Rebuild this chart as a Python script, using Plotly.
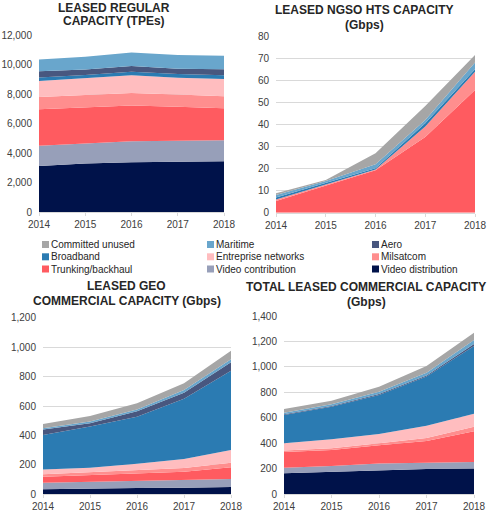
import plotly.graph_objects as go

W, H = 488, 515

years = [2014, 2015, 2016, 2017, 2018]

series_names = ["Video distribution", "Video contribution", "Trunking/backhaul", "Milsatcom",
                "Entreprise networks", "Broadband", "Aero", "Maritime", "Committed unused"]
series_colors = ["#00124a", "#979fb9", "#ff5b60", "#ff8e8e", "#ffbdbf",
                 "#2b7bb2", "#48577f", "#69a6cc", "#a6a6a6"]

# Leased regular capacity (TPEs)
regular_tpe = {
    "Video distribution": [3140, 3300, 3390, 3430, 3460],
    "Video contribution": [1360, 1360, 1420, 1410, 1420],
    "Trunking/backhaul": [2480, 2440, 2420, 2300, 2170],
    "Milsatcom": [820, 830, 840, 840, 810],
    "Entreprise networks": [1080, 1130, 1200, 1130, 1160],
    "Broadband": [250, 230, 240, 250, 250],
    "Aero": [410, 380, 390, 360, 420],
    "Maritime": [810, 860, 920, 920, 910],
    "Committed unused": [0, 0, 0, 0, 0],
}

# Leased NGSO HTS capacity (Gbps)
ngso_gbps = {
    "Video distribution": [0, 0, 0, 0, 0],
    "Video contribution": [0, 0, 0, 0, 0],
    "Trunking/backhaul": [5.3, 12.2, 19.2, 34.3, 55.5],
    "Milsatcom": [0.7, 0.6, 0.4, 4.7, 8.3],
    "Entreprise networks": [0, 0, 0, 0, 0],
    "Broadband": [0.9, 0.8, 0.5, 1.5, 1.2],
    "Aero": [0, 0, 0, 0, 0],
    "Maritime": [1.1, 0.7, 1.8, 1.5, 3.0],
    "Committed unused": [0.8, 0.5, 5.0, 6.3, 3.4],
}

# Leased GEO commercial capacity (Gbps)
geo_gbps = {
    "Video distribution": [34, 41, 43, 45, 50],
    "Video contribution": [45, 45, 50, 52, 54],
    "Trunking/backhaul": [41, 45, 50, 57, 79],
    "Milsatcom": [16, 18, 18, 25, 32],
    "Entreprise networks": [32, 32, 47, 61, 86],
    "Broadband": [235, 279, 319, 410, 539],
    "Aero": [38, 22, 37, 40, 57],
    "Maritime": [7, 12, 13, 19, 20],
    "Committed unused": [30, 38, 41, 45, 59],
}

# Total leased commercial capacity (Gbps)
total_gbps = {
    "Video distribution": [165, 178, 186, 199, 202],
    "Video contribution": [44, 44, 55, 47, 52],
    "Trunking/backhaul": [123, 126, 144, 173, 241],
    "Milsatcom": [11, 13, 15, 23, 36],
    "Entreprise networks": [57, 71, 74, 97, 102],
    "Broadband": [223, 256, 306, 385, 532],
    "Aero": [5, 6, 8, 8, 15],
    "Maritime": [13, 13, 18, 23, 32],
    "Committed unused": [29, 28, 39, 53, 57],
}

chart_titles = [
    ["LEASED REGULAR", "CAPACITY (TPEs)"],
    ["LEASED NGSO HTS CAPACITY", "(Gbps)"],
    ["LEASED GEO", "COMMERCIAL CAPACITY (Gbps)"],
    ["TOTAL LEASED COMMERCIAL CAPACITY", "(Gbps)"],
]
y_max = [12000, 80, 1200, 1400]
y_step = [2000, 10, 200, 200]

FONT = "Liberation Sans, Arial, sans-serif"
TICK_COLOR = "#404040"
GRID = "#d9d9d9"

# pixel layout of each plot area: (left, right, top, bottom)
areas = [(39, 224, 35, 212.3), (276, 475, 36, 212.7), (43, 231, 317.7, 494.3), (284, 474, 316, 494.3)]
title_pos = [(114, 7.9, 21), (364, 10, 24.7), (126.7, 286.3, 300.8), (366, 286.7, 301.7)]

fig = go.Figure()
datasets = [regular_tpe, ngso_gbps, geo_gbps, total_gbps]
for i, data in enumerate(datasets):
    sfx = "" if i == 0 else str(i + 1)
    for name, color in zip(series_names, series_colors):
        fig.add_trace(go.Scatter(
            x=years, y=data[name], name=name, mode="lines",
            line=dict(width=0, color=color), fillcolor=color,
            stackgroup="s%d" % i, showlegend=False,
            xaxis="x" + sfx, yaxis="y" + sfx,
        ))

layout = dict(
    width=W, height=H,
    margin=dict(l=0, r=0, t=0, b=0, pad=0, autoexpand=False),
    paper_bgcolor="white", plot_bgcolor="white",
    font=dict(family=FONT, size=10, color=TICK_COLOR),
    showlegend=False,
)
annotations = []
shapes = []
for i, (l, r, t, b) in enumerate(areas):
    sfx = "" if i == 0 else str(i + 1)
    layout["xaxis" + sfx] = dict(
        domain=[l / W, r / W], range=[2014, 2018], tickvals=years,
        showgrid=False, zeroline=False, showline=True, linecolor=GRID, linewidth=1,
        ticks="outside", ticklen=3, tickcolor=GRID, automargin=False,
        tickfont=dict(size=10, color=TICK_COLOR), anchor="y" + sfx,
        fixedrange=True,
    )
    layout["yaxis" + sfx] = dict(
        domain=[1 - b / H, 1 - t / H], range=[0, y_max[i]], dtick=y_step[i], tick0=0,
        tickformat=",", showgrid=True, gridcolor=GRID, gridwidth=1, zeroline=False,
        showline=False, ticks="", ticklabelstandoff=6, automargin=False,
        tickfont=dict(size=10, color=TICK_COLOR), anchor="x" + sfx,
        fixedrange=True,
    )
    cx, y1, y2 = title_pos[i]
    for txt, yy in zip(chart_titles[i], (y1, y2)):
        annotations.append(dict(
            text="<b>%s</b>" % txt, x=cx / W, y=1 - yy / H, xref="paper", yref="paper",
            xanchor="center", yanchor="middle", showarrow=False,
            font=dict(family=FONT, size=12, color="#262626"),
        ))

# legend (3 columns, row-major order)
legend_order = ["Committed unused", "Maritime", "Aero",
                "Broadband", "Entreprise networks", "Milsatcom",
                "Trunking/backhaul", "Video contribution", "Video distribution"]
col_x = [42, 207, 372]
row_y = [244.5, 256.8, 269]
color_of = dict(zip(series_names, series_colors))
for k, name in enumerate(legend_order):
    cx = col_x[k % 3]
    cy = row_y[k // 3]
    shapes.append(dict(type="rect", xref="paper", yref="paper",
                       x0=cx / W, x1=(cx + 7) / W, y0=1 - (cy + 3.5) / H, y1=1 - (cy - 3.5) / H,
                       line=dict(width=0), fillcolor=color_of[name]))
    annotations.append(dict(
        text=name, x=(cx + 7) / W, y=1 - cy / H, xref="paper", yref="paper",
        xanchor="left", yanchor="middle", showarrow=False,
        font=dict(family=FONT, size=10, color="#262626"),
    ))

layout["annotations"] = annotations
layout["shapes"] = shapes
fig.update_layout(**layout)
fig.write_html("out.html", config={"displayModeBar": False},
               post_script="document.body.style.margin='0px';document.body.style.padding='0px';")
